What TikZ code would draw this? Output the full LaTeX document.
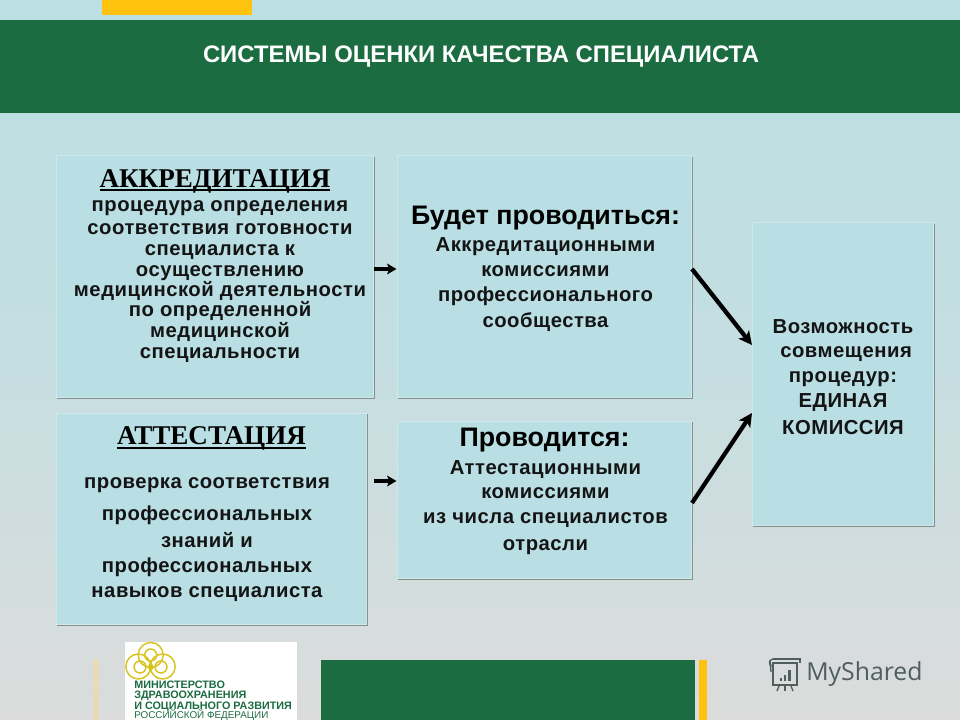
\documentclass[tikz,border=0pt]{standalone}
\usepackage{fontspec}
\setmainfont{Liberation Sans}
\newfontfamily\bodyf{Liberation Sans}[LetterSpace=2.5]
\newfontfamily\serifbold{Liberation Serif}[Scale=1]
\newfontfamily\openf{Open Sans}
\usetikzlibrary{shadows,arrows.meta,calc}
\definecolor{bgtop}{HTML}{BBDFE3}
\definecolor{bgbot}{HTML}{DCDCDC}
\definecolor{boxc}{HTML}{B9DFE4}
\definecolor{gr}{HTML}{1C6C42}
\definecolor{ye}{HTML}{FFC20E}
\definecolor{logoy}{HTML}{D9C41E}
\definecolor{msg}{HTML}{4F5F5C}
\tikzset{
  x=0.75pt,y=-0.75pt,
  boxn/.style={draw=boxc!70!white,line width=.4pt,fill=boxc,inner sep=0pt,minimum width=#1,anchor=north west,
    drop shadow={shadow xshift=1.1pt,shadow yshift=-1.1pt,fill=black!55,opacity=.75}},
  txt/.style={inner sep=0pt,align=center,font=\bfseries\fontsize{#1}{#1}\selectfont,text=black},
  lst/.style={inner sep=0pt,align=center,font=\bodyf\bfseries\fontsize{15.2}{15.8}\selectfont,text=black!92},
  hd/.style={inner sep=0pt,font=\serifbold\bfseries\fontsize{20.3}{22}\selectfont},
  arr/.style={line width=2.5pt,-{Stealth[length=7pt,width=8pt,inset=1.5pt]}},
  diag/.style={line width=3.2pt,-{Stealth[length=10pt,width=10pt,inset=2.5pt]}},
  band/.style={fill=#1,draw=none},
}
\newcommand{\bx}[5]{\node[boxn=#4*0.75pt,minimum height=#5*0.75pt] (#1) at (#2,#3) {};}
\begin{document}
\begin{tikzpicture}
\useasboundingbox (0,0) rectangle (960,720);
\shade[top color=bgtop,bottom color=bgbot,middle color=bgtop!70!bgbot] (0,0) rectangle (960,720);
\fill[band=gr] (0,20) rectangle (960,113);
\fill[band=ye] (102,0) rectangle (252,15);
\fill[band=gr] (321,660) rectangle (695,720);
\fill[band=ye] (699,660) rectangle (707,720);
\fill[band=ye!60!white] (94.5,660) rectangle (96.5,720);
\node[inner sep=0pt,font=\bfseries\fontsize{17.9}{20}\selectfont,text=white] (title) at (481,56.5) {СИСТЕМЫ ОЦЕНКИ КАЧЕСТВА СПЕЦИАЛИСТА};

\bx{a1}{55.5}{155}{317.5}{242}
\bx{b1}{396.5}{155}{294.5}{242}
\bx{a2}{55.5}{412.5}{310.5}{211.5}
\bx{b2}{396.5}{420.5}{294.5}{157.5}
\bx{c}{751.5}{222.5}{181.5}{302.5}

\node[hd] (h1) at (215,181) {АККРЕДИТАЦИЯ};
\coordinate (u1a) at (100,190); \coordinate (u1b) at (330,190);
\draw[line width=1.5pt] (u1a) -- (u1b);
\node[hd] (h2) at (211.5,438) {АТТЕСТАЦИЯ};
\coordinate (u2a) at (117,447.5); \coordinate (u2b) at (306,447.5);
\draw[line width=1.5pt] (u2a) -- (u2b);

\node[lst,anchor=north] (t1) at (220,200) {процедура определения\\[1.5pt]
соответствия готовности\\
специалиста к\\
осуществлению\\[-.8pt]
медицинской деятельности\\[-.8pt]
по определенной\\
медицинской\\
специальности};

\node[lst,anchor=north] (t2) at (207,477) {проверка соответствия\\[8.2pt]
профессиональных\\[4.5pt]
знаний и\\[3pt]
профессиональных\\[3pt]
навыков специалиста};

\node[txt=20.1,anchor=north] (t3) at (545.5,206) {Будет проводиться:};
\node[lst,anchor=north] (t4) at (545.5,237) {Аккредитационными\\[3.2pt]
комиссиями\\[3.2pt]
профессионального\\[3.2pt]
сообщества};

\node[txt=20.1,anchor=north] (t5) at (544.5,428) {Проводится:};
\node[lst,anchor=north] (t6) at (545.5,460) {Аттестационными\\[2.2pt]
комиссиями\\[3pt]
из числа специалистов\\[4.5pt]
отрасли};

\node[lst,anchor=north] (t7) at (843,319) {Возможность\\[2.2pt]
\ совмещения\\[3pt]
процедур:\\[3pt]
ЕДИНАЯ\\[4.5pt]
КОМИССИЯ};

\coordinate (p1) at (692,269);
\coordinate (q1) at (752,345);
\coordinate (p2) at (692,503);
\coordinate (q2) at (752,413);
\coordinate (s2) at (374,481);
\draw[arr] (a1.east |- 0,269) -- (b1.west |- 0,269);
\draw[arr] (s2) -- (b2.west |- 0,481);
\draw[diag] (p1) -- (q1);
\draw[diag] (p2) -- (q2);

% logo
\fill[white] (125,642) rectangle (297,720);
\begin{scope}[logoy,line width=1.1pt]
\draw (150.7,655) circle (12.5);
\draw (138.3,666.5) circle (12.5);
\draw (162.7,666.5) circle (12.5);
\draw (150.7,655) circle (6);
\draw (140,667) circle (6);
\draw (161,667) circle (6);
\fill (150.7,662) -- (154,667) -- (150.7,672) -- (147.4,667) -- cycle;
\end{scope}
\node[inner sep=0pt,anchor=north west,align=left,text=gr,font=\bfseries\fontsize{8.1}{7.2}\selectfont] (logo) at (134,681) {МИНИСТЕРСТВО\\ЗДРАВООХРАНЕНИЯ\\И СОЦИАЛЬНОГО РАЗВИТИЯ};
\node[inner sep=0pt,anchor=west,text=gr,font=\fontsize{7.4}{7.4}\selectfont] (logob) at (134,715.5) {РОССИЙСКОЙ ФЕДЕРАЦИИ};

% MyShared
\node[inner sep=0pt,anchor=west,text=msg,font=\openf\fontsize{18.6}{20}\selectfont] (ms) at (806,674) {MyShared};
\begin{scope}[msg,line width=1pt]
\draw (773,663) rectangle (797,685);
\draw (770,660) -- (771,672);
\draw (773,659) -- (800,659) -- (800,663);
\draw (773,659) .. controls (769,659) and (768,666) .. (772,666);
\fill (780,678) rectangle (782,681);
\fill (784,675) rectangle (786,681);
\fill (788,670) rectangle (791,681);
\draw (779,686) -- (777,691);
\draw (785,686) -- (785,691);
\draw (791,686) -- (793,691);
\end{scope}
\end{tikzpicture}
\end{document}
